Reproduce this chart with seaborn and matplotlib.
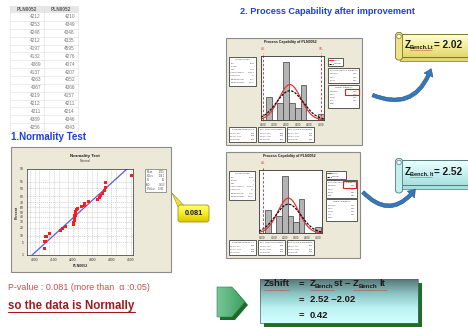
import numpy as np
import pandas as pd
import matplotlib
matplotlib.use("Agg")
import matplotlib.pyplot as plt
import matplotlib.colors as mcolors
from matplotlib import font_manager
from matplotlib.patches import Rectangle, FancyBboxPatch, Polygon, FancyArrowPatch, Ellipse
import seaborn as sns
from statistics import NormalDist

W, H = 468, 327

# ---------------- data ----------------
table_header = ["PLN0052", "PLN0052"]
table_col1 = [4212, 4253, 4248, 4212, 4197, 4132, 4369, 4137, 4263, 4367, 4219, 4212, 4211, 4389, 4256]
table_col2 = [4210, 4349, 4348, 4335, 4595, 4276, 4074, 4207, 4052, 4366, 4157, 4211, 4214, 4346, 4343]

normality_sample = [4050, 4054, 4059, 4079, 4135, 4143, 4160, 4201, 4204, 4206,
                    4207, 4209, 4210, 4211, 4212, 4214, 4218, 4222, 4244, 4258,
                    4261, 4278, 4328, 4337, 4345, 4353, 4362, 4368, 4370, 4505]
percent_ticks = [1, 5, 10, 20, 30, 40, 50, 60, 70, 80, 90, 95, 99]
normality_xticks = [4000, 4100, 4200, 4300, 4400, 4500]
p_value = 0.081
alpha = 0.05

bin_edges = [4025, 4075, 4125, 4175, 4225, 4275, 4325, 4375, 4425, 4475, 4525]
bin_counts = [4, 0, 3, 10, 3, 2, 6, 0, 0, 1]
lsl, usl = 4000, 4500
proc_mean = 4232
sd_within = 95
sd_overall = 115
cap_xticks = [4000, 4100, 4200, 4300, 4400, 4500]

z_bench_lt = 2.02
z_bench_st = 2.52
z_shift = 0.42

# ---------------- style ----------------
sns.set_theme(style="white")


def has_font(name):
    try:
        font_manager.findfont(font_manager.FontProperties(family=name), fallback_to_default=False)
        return True
    except Exception:
        return False


NARROW = "Liberation Sans Narrow" if has_font("Liberation Sans Narrow") else "Liberation Sans"
plt.rcParams["font.family"] = ["Liberation Sans", "DejaVu Sans"]
plt.rcParams["axes.unicode_minus"] = False

fig = plt.figure(figsize=(W / 100, H / 100), dpi=100)
fig.patch.set_facecolor("white")


def px_axes(x0, y0, x1, y1, z):
    ax = fig.add_axes([x0 / W, 1 - y1 / H, (x1 - x0) / W, (y1 - y0) / H])
    ax.set_zorder(z)
    return ax


bg = px_axes(0, 0, W, H, 0)
bg.set_xlim(0, W)
bg.set_ylim(H, 0)
bg.set_axis_off()
bg.set_autoscale_on(False)


def ramp(colors, n=128):
    rgb = np.array([mcolors.to_rgb(c) for c in colors])
    t = np.linspace(0, 1, n)
    s = np.linspace(0, 1, len(rgb))
    return np.stack([np.interp(t, s, rgb[:, k]) for k in range(3)], axis=1)


def gradient_fill(ax, patch, colors, bbox, vertical=True, z=1):
    x0, y0, x1, y1 = bbox
    patch.set_facecolor("none")
    patch.set_zorder(z + 0.1)
    ax.add_patch(patch)
    cols = ramp(colors)
    img = cols[:, None, :] if vertical else cols[None, :, :]
    im = ax.imshow(img, extent=(x0, x1, y1, y0), origin="upper", aspect="auto",
                   interpolation="bilinear", zorder=z)
    im.set_clip_path(patch)
    return patch


def box(ax, x0, y0, x1, y1, fc="white", ec="#404040", lw=0.6, z=2):
    ax.add_patch(Rectangle((x0, y0), x1 - x0, y1 - y0, fc=fc, ec=ec, lw=lw, zorder=z))


def tiny_lines(ax, x0, y0, x1, lines, fs=1.6, step=3.2, z=3):
    # label on the left, value on the right, as in a small stats box
    for k, (lab, val) in enumerate(lines):
        yy = y0 + k * step
        ax.text(x0, yy, lab, fontsize=fs, color="#505050", ha="left", va="center", zorder=z)
        if val:
            ax.text(x1, yy, val, fontsize=fs, color="#505050", ha="right", va="center", zorder=z)


# ---------------- data table ----------------
cols_x = [10, 44, 78]
row_h = 7.86
bg.add_patch(Rectangle((10, 6), 68, 7, fc="#E6E6E6", ec="none", zorder=1))
for j, h in enumerate(table_header):
    bg.text((cols_x[j] + cols_x[j + 1]) / 2, 9.6, h, fontsize=3.4, fontweight="bold",
            color="#5A5A5A", ha="center", va="center", zorder=2)
for i, (a, b) in enumerate(zip(table_col1, table_col2)):
    yc = 17 + i * row_h
    bg.text(41, yc, str(a), fontsize=3.4, color="#777777", ha="right", va="center", zorder=2)
    bg.text(75, yc, str(b), fontsize=3.4, color="#777777", ha="right", va="center", zorder=2)
    bg.plot([10, 78], [yc + row_h / 2] * 2, color="#DDDDDD", lw=0.4, zorder=1)
for xx in cols_x:
    bg.plot([xx, xx], [6, 13 + 15 * row_h], color="#DDDDDD", lw=0.4, zorder=1)

# ---------------- headings ----------------
bg.text(11, 137, "1.Normality Test", fontsize=7, fontweight="bold", color="#1E40E0",
        family=[NARROW, "DejaVu Sans"], ha="left", va="center")
bg.text(240, 12, "2. Process Capability after improvement", fontsize=6.6, fontweight="bold",
        color="#1E40E0", family=[NARROW, "DejaVu Sans"], ha="left", va="center")

# ---------------- normality test panel ----------------
box(bg, 11, 147, 171, 272, fc="#ECE9D8", ec="#8C8C8C", lw=0.8, z=1)
bg.text(85, 156, "Normality Test", fontsize=3.2, fontweight="bold", color="#202020", ha="center", va="center")
bg.text(85, 160.5, "Normal", fontsize=2.4, color="#404040", ha="center", va="center")
bg.text(17, 212, "Percent", fontsize=2.6, fontweight="bold", rotation=90, color="#303030", ha="center", va="center")
bg.text(80, 266, "PLN0052", fontsize=2.6, fontweight="bold", color="#303030", ha="center", va="center")

nd = NormalDist()
vals = np.sort(np.array(normality_sample, dtype=float))
n = len(vals)
ranks = np.array([nd.inv_cdf((k + 1 - 0.3) / (n + 0.4)) for k in range(n)])
prob_df = pd.DataFrame({"value": vals, "z": ranks})
mu, sd = vals.mean(), vals.std(ddof=1)
zl = np.array([-3.0, 3.0])
fit_df = pd.DataFrame({"value": mu + zl * sd, "z": zl})

ax_n = px_axes(27, 169, 133, 255, 2)
ax_n.set_facecolor("white")
sns.lineplot(data=fit_df, x="value", y="z", color="#5A5AF0", lw=0.9, ax=ax_n, sort=False)
sns.scatterplot(data=prob_df, x="value", y="z", marker="s", s=5, color="#FF1A1A",
                edgecolor="none", ax=ax_n, zorder=4)
ax_n.set_xlim(3960, 4512)
ax_n.set_ylim(nd.inv_cdf(0.01), nd.inv_cdf(0.99))
ax_n.set_yticks([nd.inv_cdf(p / 100) for p in percent_ticks])
ax_n.set_yticklabels([str(p) for p in percent_ticks])
ax_n.set_xticks(normality_xticks)
ax_n.set_xticklabels([str(v) for v in normality_xticks])
ax_n.set_xticks(np.arange(3975, 4512, 50), minor=True)
ax_n.grid(True, which="both", color="#BBBBBB", ls=(0, (2, 1.5)), lw=0.4)
ax_n.tick_params(labelsize=2.4, length=1, width=0.4, pad=1.2, colors="#303030")
ax_n.set_xlabel("")
ax_n.set_ylabel("")
for s in ax_n.spines.values():
    s.set_color("#303030")
    s.set_linewidth(0.5)

box(bg, 145, 169, 166, 192, fc="white", ec="#707070", lw=0.5, z=2)
tiny_lines(bg, 146.5, 172, 164.8,
           [("Mean", f"{mu:.0f}"), ("StDev", f"{sd:.1f}"), ("N", str(n)),
            ("AD", "0.653"), ("P-Value", f"{p_value:.3f}")], fs=1.8, step=4.2)

# yellow call-out with the p-value
bg.add_patch(Polygon([(178.5, 208), (184, 205.5), (172, 193)], closed=True,
                     fc="#F2E03A", ec="#9C8A2A", lw=0.4, zorder=3))
gradient_fill(bg, FancyBboxPatch((178, 205), 31, 17, boxstyle="round,pad=0,rounding_size=2.5",
                                 ec="#A89018", lw=0.6),
              ["#FFFF70", "#F6EE20", "#D8C400"], (178, 205, 209, 222), z=3)
bg.text(193.5, 213.8, f"{p_value:.3f}", fontsize=5.2, fontweight="bold", color="#1A1A1A",
        ha="center", va="center", zorder=4)

# conclusion text
bg.text(8, 287, f"P-value : {p_value:.3f} (more than  \u03b1 :{alpha:.2f})", fontsize=6.4,
        color="#C0504D", family=[NARROW, "DejaVu Sans"], ha="left", va="center")
bg.text(8, 305.5, "so the data is Normally", fontsize=8.3, fontweight="bold",
        color="#A31A1E", family=[NARROW, "DejaVu Sans"], ha="left", va="center")
bg.plot([8, 135], [311.5, 311.5], color="#A31A1E", lw=0.8)


# ---------------- process capability panels ----------------
def capability_panel(panel, plot, xlim, show_usl, left_box, legend_box, pot_box, ovr_box,
                     highlight, bottom_y, usl_text):
    px0, py0, px1, py1 = panel
    box(bg, px0, py0, px1, py1, fc="#ECE9D8", ec="#8C8C8C", lw=0.8, z=1)
    bg.text((px0 + px1) / 2 - 4, py0 + 4.5, "Process Capability of PLN0052", fontsize=2.6,
            fontweight="bold", color="#202020", ha="center", va="center")

    ax = px_axes(*plot, 2)
    ax.set_facecolor("white")
    centers = [(a + b) / 2 for a, b in zip(bin_edges[:-1], bin_edges[1:])]
    sns.histplot(x=centers, weights=bin_counts, bins=bin_edges, color="#B4B4B4",
                 edgecolor="#3C3C3C", linewidth=0.5, alpha=1, ax=ax)
    bw = bin_edges[1] - bin_edges[0]
    total = sum(bin_counts)
    xs = np.linspace(xlim[0], xlim[1], 200)
    within = [total * bw * NormalDist(proc_mean, sd_within).pdf(v) for v in xs]
    overall = [total * bw * NormalDist(proc_mean, sd_overall).pdf(v) for v in xs]
    sns.lineplot(x=xs, y=within, color="#F03030", lw=0.9, ax=ax)
    sns.lineplot(x=xs, y=overall, color="#111111", lw=0.9, ls=(0, (2, 1)), ax=ax)
    specs = [("LSL", lsl)] + ([("USL", usl)] if show_usl else [])
    for name, v in specs:
        ax.axvline(v, ymin=0, ymax=1.05, color="#E02020", lw=0.6, ls=(0, (3, 2)), clip_on=False)
        ax.text(v, 11.9, name, fontsize=1.8, color="#E02020", ha="center", va="bottom")
    ax.set_xlim(*xlim)
    ax.set_ylim(0, 11)
    ax.set_yticks([])
    ax.set_xticks(cap_xticks)
    ax.set_xticklabels([str(v) for v in cap_xticks])
    ax.tick_params(axis="x", labelsize=2.0, length=1, width=0.4, pad=1, colors="#303030")
    ax.set_xlabel("")
    ax.set_ylabel("")
    for s in ax.spines.values():
        s.set_color("#303030")
        s.set_linewidth(0.6)

    # process data
    lx0, ly0, lx1, ly1 = left_box
    box(bg, lx0, ly0, lx1, ly1)
    bg.text((lx0 + lx1) / 2, ly0 + 2.5, "Process Data", fontsize=1.7, color="#404040", ha="center", va="center")
    tiny_lines(bg, lx0 + 1.5, ly0 + 6, lx1 - 1.5,
               [("LSL", str(lsl)), ("Target", "*"), ("USL", usl_text),
                ("Sample Mean", f"{proc_mean}.4"), ("Sample N", str(total)),
                ("StDev(Within)", f"{sd_within}.0"), ("StDev(Overall)", f"{sd_overall}.2")])

    # legend
    gx0, gy0, gx1, gy1 = legend_box
    box(bg, gx0, gy0, gx1, gy1)
    gm = (gy0 + gy1) / 2
    bg.plot([gx0 + 1, gx0 + 5], [gy0 + 2.2] * 2, color="#F03030", lw=0.8, zorder=3)
    bg.plot([gx0 + 1, gx0 + 5], [gm + 1.8] * 2, color="#111111", lw=0.8, ls=(0, (2, 1)), zorder=3)
    bg.text(gx0 + 6, gy0 + 2.2, "Within", fontsize=1.7, color="#404040", va="center", zorder=3)
    bg.text(gx0 + 6, gm + 1.8, "Overall", fontsize=1.7, color="#404040", va="center", zorder=3)

    # potential and overall capability
    ax0, ay0, ax1, ay1 = pot_box
    box(bg, ax0, ay0, ax1, ay1)
    bg.text((ax0 + ax1) / 2, ay0 + 2.5, "Potential (Within) Capability", fontsize=1.6,
            color="#404040", ha="center", va="center")
    tiny_lines(bg, ax0 + 2, ay0 + 6, ax1 - 2,
               [("Z.Bench", f"{z_bench_st:.2f}"), ("Z.LSL", "2.44"), ("Z.USL", "2.82"), ("Cpk", "0.81")])
    ox0, oy0, ox1, oy1 = ovr_box
    box(bg, ox0, oy0, ox1, oy1)
    bg.text((ox0 + ox1) / 2, oy0 + 2.5, "Overall Capability", fontsize=1.6,
            color="#404040", ha="center", va="center")
    tiny_lines(bg, ox0 + 2, oy0 + 6, ox1 - 2,
               [("Z.Bench", f"{z_bench_lt:.2f}"), ("Z.LSL", "2.02"), ("Z.USL", "2.33"),
                ("Ppk", "0.67"), ("Cpm", "*")])
    hx0, hy0, hx1, hy1 = highlight
    bg.add_patch(Rectangle((hx0, hy0), hx1 - hx0, hy1 - hy0, fc="none", ec="#E02020", lw=0.8, zorder=4))

    # performance boxes
    titles = ["Observed Performance", "Exp. Within Performance", "Exp. Overall Performance"]
    for k, bx in enumerate([229, 258, 287]):
        box(bg, bx, bottom_y, bx + 27, bottom_y + 15)
        bg.text(bx + 13.5, bottom_y + 2.5, titles[k], fontsize=1.5, color="#404040", ha="center", va="center")
        tiny_lines(bg, bx + 1.5, bottom_y + 6, bx + 25.5,
                   [("PPM < LSL", "0.00"), ("PPM > USL", "0.00"), ("PPM Total", "0.00")], fs=1.5, step=3)


capability_panel((226, 38, 362, 145), (261, 56, 324, 120), (3983, 4526), True,
                 (229, 57, 256, 86), (328, 58, 343, 66), (328, 68, 359, 83), (328, 85, 359, 108),
                 (345, 89, 359, 95), 127, str(usl))
capability_panel((226, 152, 360, 258), (259, 170, 322, 233), (3968, 4534), False,
                 (229, 171, 255, 200), (326, 171, 346, 179), (326, 180, 357, 198), (326, 199, 357, 221),
                 (343, 181, 356, 188), 240, "*")

# ---------------- curved arrows ----------------
for a, b, rad in [((370, 94), (432, 66), 0.55), ((361, 190), (417, 187), 0.62)]:
    bg.add_patch(FancyArrowPatch(a, b, connectionstyle=f"arc3,rad={rad}",
                                 arrowstyle="simple,head_length=5,head_width=7,tail_width=2.6",
                                 fc="#3579B8", ec="#1F4F80", lw=0.4, zorder=3))


# ---------------- Z-bench scrolls ----------------
def scroll(y0, y1, roll_bot, colors, roll_fc, ec, sub, value, ty):
    bg.add_patch(Rectangle((400, y1 - 1), 70, 4.5, fc=colors[-1], ec=ec, lw=0.5, zorder=2))
    gradient_fill(bg, Rectangle((399, y0), 71, y1 - y0, ec=ec, lw=0.7), colors, (399, y0, 470, y1), z=3)
    bg.add_patch(FancyBboxPatch((395.5, y0 - 1.5), 7, roll_bot - y0 + 1.5,
                                boxstyle="round,pad=0,rounding_size=3", fc=roll_fc, ec=ec, lw=0.6, zorder=4))
    bg.add_patch(Ellipse((399, y0 + 2.5), 4.5, 4.5, fc=colors[0], ec=ec, lw=0.5, zorder=5))
    bg.text(404.5, ty, "Z", fontsize=7.2, fontweight="bold", color="#1A1A1A", ha="left", va="center", zorder=6)
    bg.text(409.5, ty + 2.6, sub, fontsize=4.0, fontweight="bold", color="#1A1A1A",
            family=[NARROW, "DejaVu Sans"], ha="left", va="center", zorder=6)
    bg.plot([410, 432], [ty + 5.4] * 2, color="#E03030", lw=0.5, ls=(0, (1, 0.6)), zorder=6)
    bg.text(434, ty, f"= {value:.2f}", fontsize=7.2, fontweight="bold", color="#1A1A1A",
            ha="left", va="center", zorder=6)


scroll(34, 57, 60, ["#FFFFD8", "#F4EE9A", "#E2D670"], "#EDE488", "#7D7436", "Bench.Lt", z_bench_lt, 45)
scroll(160, 185, 193, ["#F0FFFF", "#C8F2F2", "#A8E0E0"], "#C4EEEE", "#4F7F80", "Bench. lt", z_bench_st, 172)

# ---------------- Z-shift summary ----------------
bg.add_patch(Polygon([(220, 290), (235, 290), (248, 305), (235, 320), (220, 320)], closed=True,
                     fc="#1D6A2C", ec="none", zorder=2))
gradient_fill(bg, Polygon([(217, 287), (232, 287), (245, 302), (232, 317), (217, 317)], closed=True,
                          ec="#2C7F45", lw=0.4),
              ["#78C898", "#3C9E60"], (217, 287, 245, 317), vertical=False, z=3)

bg.add_patch(Rectangle((264, 283), 158, 44, fc="#1F6E22", ec="none", zorder=2))
gradient_fill(bg, Rectangle((260, 279), 158, 44, ec="#4A6A6A", lw=0.5),
              ["#587676", "#8CC4C4", "#BDF2F2", "#D2FFFF"], (260, 279, 418, 323), z=3)

fs_main, fs_sub = 6.8, 4.4
ink = "#1A1A1A"
bg.text(264, 284, "Zshift", fontsize=fs_main, fontweight="bold", color=ink, ha="left", va="center", zorder=5)
bg.plot([264, 289], [289.5, 289.5], color="#E03030", lw=0.5, ls=(0, (1, 0.6)), zorder=5)
for yy in (284, 300, 315):
    bg.text(299, yy, "=", fontsize=fs_main, fontweight="bold", color=ink, ha="left", va="center", zorder=5)
bg.text(309.5, 284, "Z", fontsize=fs_main, fontweight="bold", color=ink, ha="left", va="center", zorder=5)
bg.text(315, 286.5, "Bench", fontsize=fs_sub, fontweight="bold", color=ink, ha="left", va="center", zorder=5)
bg.text(334.5, 284, "st \u2013", fontsize=fs_main, fontweight="bold", color=ink, ha="left", va="center", zorder=5)
bg.text(352.5, 284, "Z", fontsize=fs_main, fontweight="bold", color=ink, ha="left", va="center", zorder=5)
bg.text(358.5, 286.5, "Bench", fontsize=fs_sub, fontweight="bold", color=ink, ha="left", va="center", zorder=5)
bg.text(379.5, 284, "lt", fontsize=fs_main, fontweight="bold", color=ink, ha="left", va="center", zorder=5)
for xa, xb in [(310, 334), (353, 378), (379, 387)]:
    bg.plot([xa, xb], [290, 290], color="#E03030", lw=0.5, ls=(0, (1, 0.6)), zorder=5)
bg.text(309.5, 300, f"{z_bench_st:.2f} \u2013{z_bench_lt:.2f}", fontsize=fs_main, fontweight="bold",
        color=ink, ha="left", va="center", zorder=5)
bg.text(309.5, 315, f"{z_shift:.2f}", fontsize=fs_main, fontweight="bold", color=ink,
        ha="left", va="center", zorder=5)

bg.set_xlim(0, W)
bg.set_ylim(H, 0)
fig.savefig("out.png", dpi=100)
